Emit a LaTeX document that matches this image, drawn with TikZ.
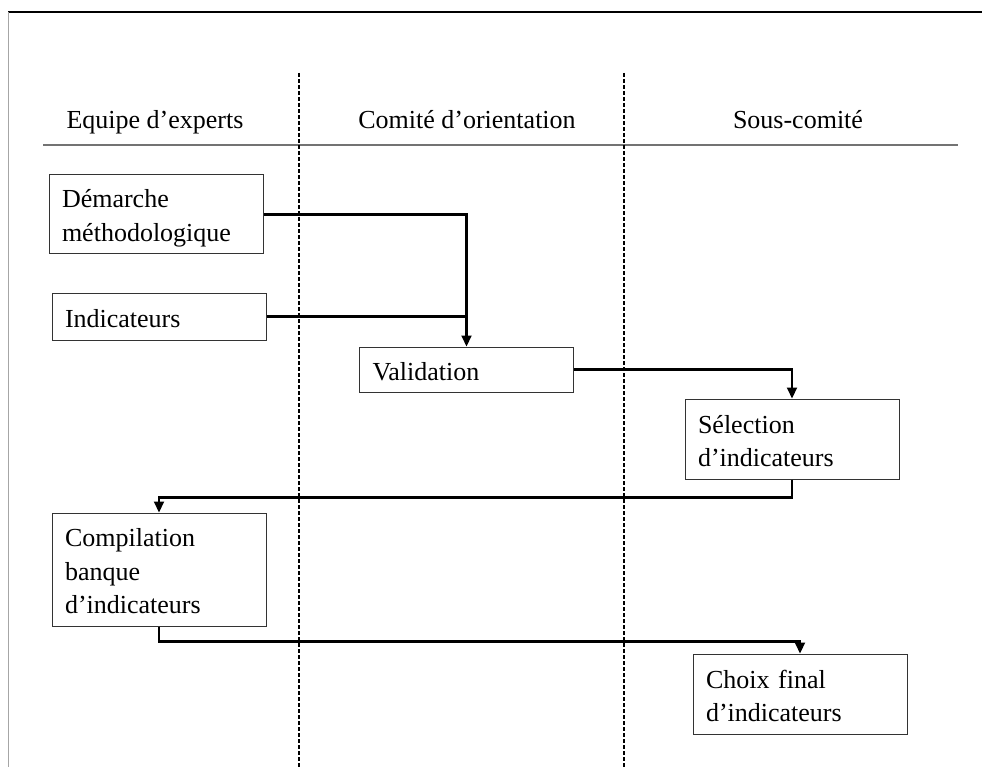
\documentclass[tikz,border=0pt]{standalone}
\usepackage{fontspec}
\setmainfont{Liberation Serif}
\usetikzlibrary{arrows.meta}
\begin{document}
\begin{tikzpicture}[x=1pt,y=-1pt,
  every node/.style={font=\fontsize{26}{33.5}\selectfont},
  box/.style={draw=black!80, line width=1pt, inner xsep=13pt, inner ysep=0pt,
    align=left, minimum width=214pt, text width=188pt,
    execute at begin node={\rule{0pt}{22pt}}},
  head/.style={anchor=base},
  conn/.style={line width=2.1pt, black},
  arr/.style={conn, -{Triangle[length=11pt,width=10pt]}},
  lane/.style={line width=1.6pt, dash pattern=on 4pt off 2pt},
  rule/.style={line width=1.3pt, draw=black!55}]
\useasboundingbox (0,0) rectangle (982,767);
% frame
\draw[line width=1.5pt] (8,12) -- (982,12);
\draw[line width=1pt, black!35] (8,12) -- (8,767);
% headers
\node[head] (h1) at (155,129) {Equipe d’experts};
\node[head] (h2) at (467,129) {Comité d’orientation};
\node[head] (h3) at (798,129) {Sous-comité};
\draw[rule] (43,145) -- (958,145);
% lanes
\draw[lane] (299,73) -- (299,767);
\draw[lane] (624,73) -- (624,767);
% boxes
\node[box, minimum height=79pt] (dem) at (156,214.5) {\rule{0pt}{26pt}Démarche\\méthodologique};
\node[box, minimum height=47pt] (ind) at (159,316.5) {Indicateurs};
\node[box, minimum width=213pt, minimum height=45pt] (val) at (466.5,369.5) {Validation};
\node[box, minimum height=80pt] (sel) at (792,439) {Sélection\\d’indicateurs};
\node[box, minimum height=113pt] (comp) at (159,569.5) {Compilation\\banque\\d’indicateurs};
\node[box, minimum height=80pt] (cho) at (800,694) {Choix final\\d’indicateurs};
% connectors
\coordinate (j1) at (val.north |- ind.east);
\draw[arr] (dem.east) -| (val.north);
\draw[conn] (ind.east) -- (j1);
\draw[arr] (val.east) -| (sel.north);
\draw[arr] (sel.south) -- ++(0,18) -| (comp.north);
\draw[arr] (comp.south) -- ++(0,15) -| (cho.north);
\end{tikzpicture}
\end{document}
